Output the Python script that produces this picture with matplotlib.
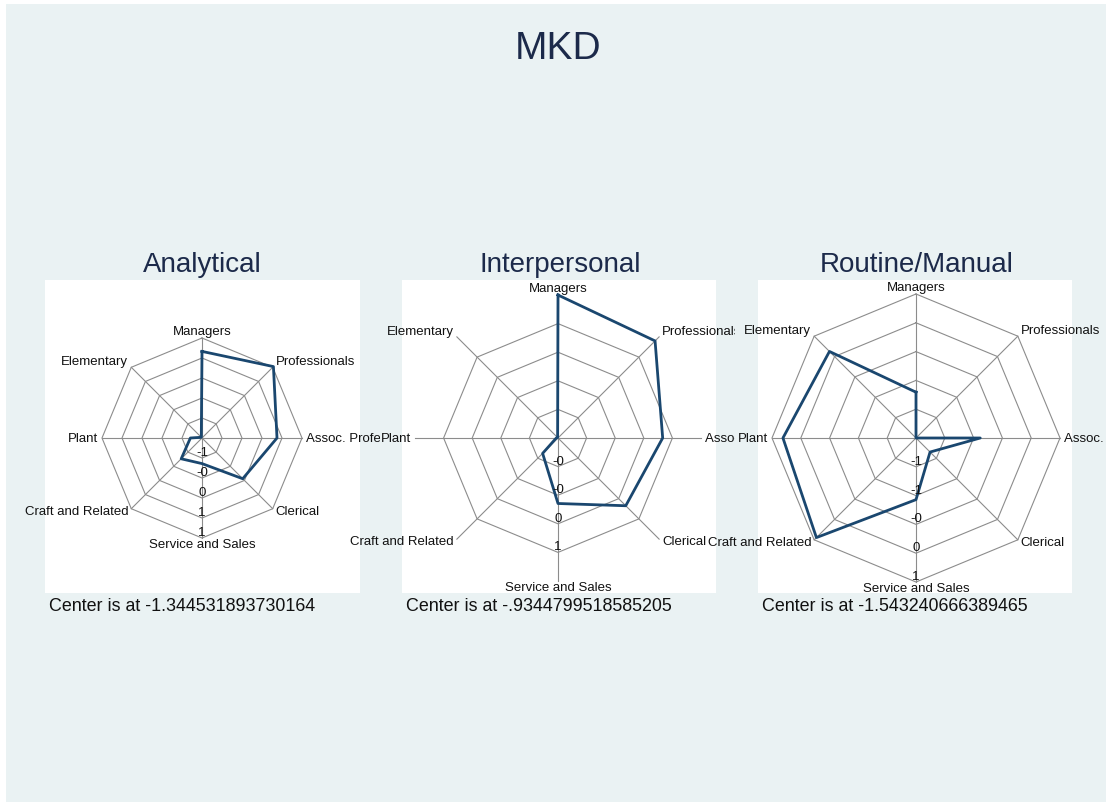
import numpy as np
import matplotlib.pyplot as plt
from matplotlib.patches import Rectangle

plt.rcParams['font.family'] = ['Liberation Sans', 'DejaVu Sans']

W, H = 1106, 803
BG = '#eaf2f3'
NAVY = '#1a476f'
GRID = '#8c8c8c'
TITLE_C = '#1c2a4a'
TEXT_C = '#111111'

# data (radial position in ring units, 0 = centre, 5 = end of spoke)
categories = ["Managers", "Professionals", "Assoc. Professionals", "Clerical",
              "Service and Sales", "Craft and Related", "Plant", "Elementary"]

titles = ["Analytical", "Interpersonal", "Routine/Manual"]
center_values = ["-1.344531893730164", "-.9344799518585205", "-1.543240666389465"]

analytical = [4.33, 5.05, 3.75, 2.88, 1.28, 1.47, 0.58, 0.05]
interpersonal = [5.0, 4.8, 3.66, 3.35, 2.29, 0.76, 0.06, 0.02]
routine = [1.59, 0.0, 2.23, 0.69, 2.14, 4.89, 4.62, 4.25]
series = [analytical, interpersonal, routine]

ring_labels = [["-1", "-0", "0", "1", "1"],
               ["-0", "-0", "0", "1"],
               ["-1", "-1", "-0", "0", "1"]]

# layout in pixels: region x-range, white box x-range, centre, radius, title x
panels = [
    dict(rx=(6, 380), bx=(45, 360), c=(202, 439), R=100, tx=202),
    dict(rx=(380, 735), bx=(402, 716), c=(558, 439), R=143, tx=560),
    dict(rx=(735, 1106), bx=(758, 1072), c=(916, 439), R=144, tx=917),
]
RY = (240, 625)
BOX_Y = (281, 594)


def frac(x0, y0, x1, y1):
    return [x0 / W, 1 - y1 / H, (x1 - x0) / W, (y1 - y0) / H]


# label alignment for each spoke: ha, va, dx, dy (px)
lab_pos = [('center', 'bottom', 0, 1), ('left', 'bottom', 3, 0),
           ('left', 'center', 4, 0), ('left', 'center', 3, -2),
           ('center', 'top', 0, 0), ('right', 'center', -3, -2),
           ('right', 'center', -4, 0), ('right', 'bottom', -3, 0)]
PT = 72 / 100

fig = plt.figure(figsize=(W / 100, H / 100), dpi=100, facecolor='white')
fig.add_artist(Rectangle((6 / W, 0), (W - 6) / W, (H - 5) / H,
                         transform=fig.transFigure, fc=BG, ec='none', zorder=-5))
fig.text(558 / W, 1 - 59 / H, 'MKD', ha='center', va='baseline',
         fontsize=28, color=TITLE_C)

theta = np.arange(len(categories)) * 2 * np.pi / len(categories)
closed = np.append(theta, theta[0])

for i, p in enumerate(panels):
    # region (covers overflowing labels of the previous panel, like Stata)
    rax = fig.add_axes(frac(p['rx'][0], RY[0], p['rx'][1], RY[1]))
    rax.set_xlim(*p['rx'])
    rax.set_ylim(RY[1], RY[0])
    rax.set_facecolor(BG)
    rax.set_xticks([])
    rax.set_yticks([])
    for s in rax.spines.values():
        s.set_visible(False)
    rax.add_patch(Rectangle((p['bx'][0], BOX_Y[0]), p['bx'][1] - p['bx'][0],
                            BOX_Y[1] - BOX_Y[0], fc='white', ec='none'))
    rax.text(p['tx'], 272, titles[i], ha='center', va='baseline',
             fontsize=20, color=TITLE_C)
    rax.text(p['bx'][0] + 4, 611, 'Center is at ' + center_values[i],
             ha='left', va='baseline', fontsize=12.9, color=TEXT_C)

    cx, cy = p['c']
    R = p['R']
    pax = fig.add_axes(frac(cx - R, cy - R, cx + R, cy + R), projection='polar')
    pax.set_theta_zero_location('N')
    pax.set_theta_direction(-1)
    pax.set_ylim(0, 5)
    pax.set_axis_off()

    for t in theta:
        pax.plot([t, t], [0, 5], color=GRID, lw=0.8, clip_on=False)
    for k in range(1, len(ring_labels[i]) + 1):
        pax.plot(closed, [k] * len(closed), color=GRID, lw=0.8, clip_on=False)

    vals = list(series[i]) + [series[i][0]]
    pax.plot(closed, vals, color=NAVY, lw=2.0, clip_on=False, zorder=3)

    for k, lbl in enumerate(ring_labels[i], start=1):
        pax.annotate(lbl, xy=(np.pi, k), xytext=(0, 0), textcoords='offset points',
                     ha='center', va='bottom', fontsize=9.5, color=TEXT_C,
                     annotation_clip=False)

    for t, name, (ha, va, dx, dy) in zip(theta, categories, lab_pos):
        pax.annotate(name, xy=(t, 5), xytext=(dx * PT, dy * PT),
                     textcoords='offset points', ha=ha, va=va, fontsize=9.5,
                     color=TEXT_C, annotation_clip=False)

fig.savefig('out.png', dpi=100)
